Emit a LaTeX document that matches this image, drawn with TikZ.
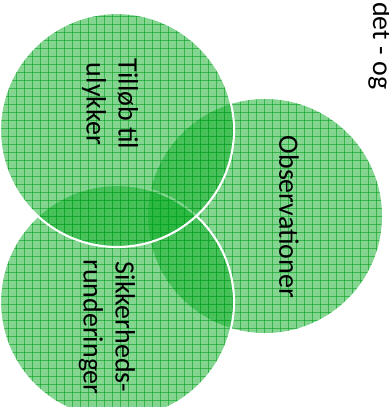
\documentclass[tikz,border=0pt]{standalone}
\usepackage{fontspec}
\setmainfont{Carlito}

\definecolor{venngreen}{RGB}{20,176,44}
\definecolor{gridgreen}{RGB}{8,160,36}

% Grid lines clipped to one circle
\newcommand{\gridcircle}[1]{%
  \begin{scope}
    \clip (#1) circle[radius=\rad];
    \foreach \g in {0,8,...,424} {
      \draw[gridgreen,line width=0.6pt,opacity=0.6] (\g,0) -- (\g,424);
      \draw[gridgreen,line width=0.6pt,opacity=0.6] (0,\g) -- (424,\g);
    }
  \end{scope}}

\begin{document}
\begin{tikzpicture}[x=0.75pt,y=-0.75pt,
    disc/.style={fill=venngreen,fill opacity=0.53},
    rim/.style={draw=white,line width=1.6pt},
    venntext/.style={rotate=-90,align=center,text=black,
      font=\fontsize{21}{24}\selectfont}]

\useasboundingbox (0,0) rectangle (389,407);

% Radius and centres of the three circles
\def\rad{117}
\coordinate (Top) at (117,130);
\coordinate (Bot) at (117,302);
\coordinate (Rgt) at (265,216);

% Right circle first, no rim
\fill[disc] (Rgt) circle[radius=\rad];
\gridcircle{Rgt}

% Lower circle with a white rim
\fill[disc] (Bot) circle[radius=\rad];
\gridcircle{Bot}
\draw[rim] (Bot) circle[radius=\rad];

% Upper circle on top of the others
\fill[disc] (Top) circle[radius=\rad];
\gridcircle{Top}
\draw[rim] (Top) circle[radius=\rad];

% Labels
\node[venntext] (tillob) at (110,104) {Tilløb til\\ulykker};
\node[venntext] (runder) at (107,327) {Sikkerheds-\\runderinger};
\node[venntext] (observ) at (289,217) {Observationer};
\node[venntext,anchor=base west,inner sep=0pt] (detog) at (373,2) {det - og};
\end{tikzpicture}
\end{document}
